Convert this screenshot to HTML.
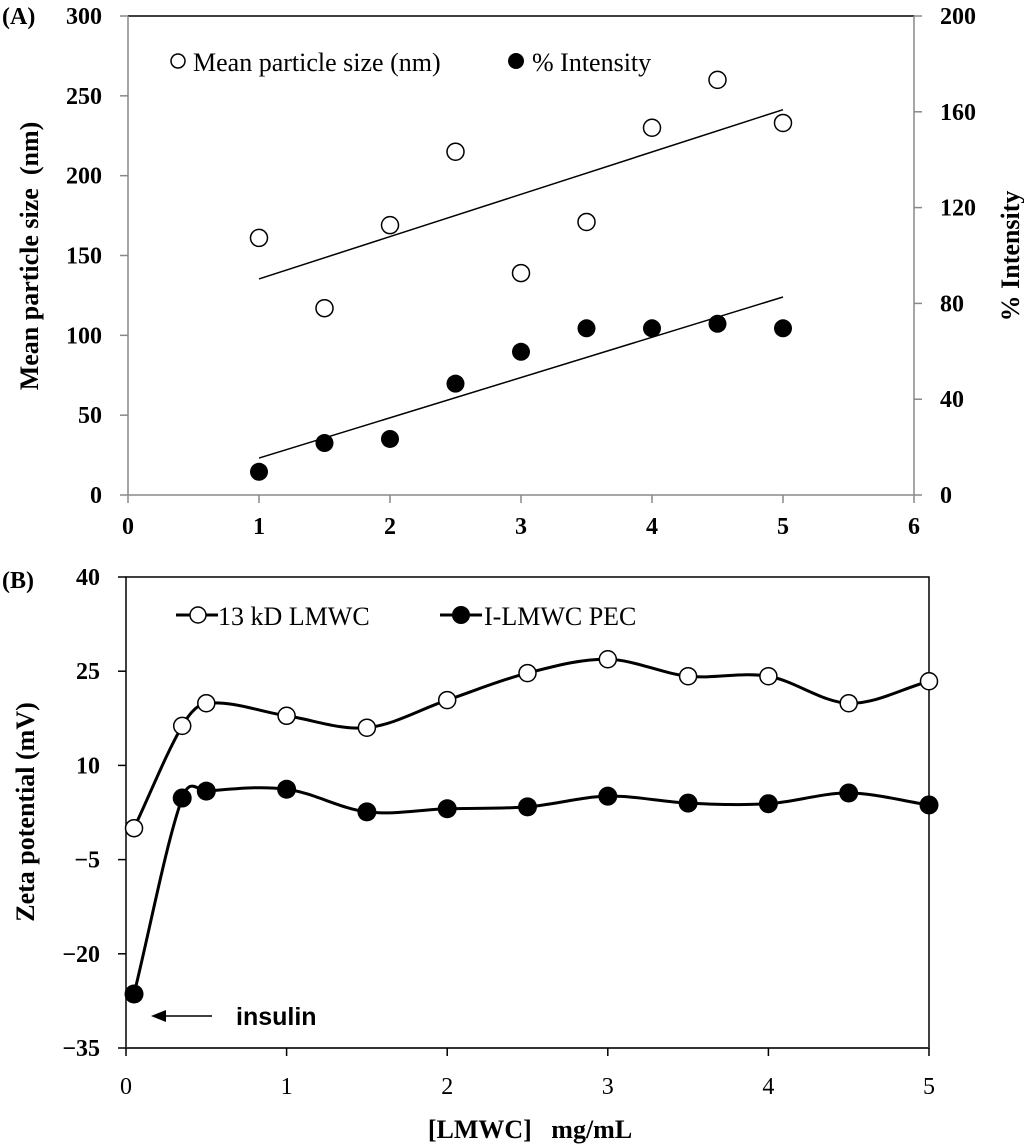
<!DOCTYPE html>
<html><head><meta charset="utf-8"><style>
body{margin:0;background:#fff;}
svg{display:block;font-family:"Liberation Serif",serif;}
</style></head><body>
<svg id="chart" width="1024" height="1146" viewBox="0 0 1024 1146" xmlns="http://www.w3.org/2000/svg">
<g id="pa"></g>
<g id="pb"></g>
</svg>
<script>
// Panel A data
const aX = [1, 1.5, 2, 2.5, 3, 3.5, 4, 4.5, 5];
const aSize = [161, 117, 169, 215, 139, 171, 230, 260, 233];
const aIntensity = [9.7, 21.7, 23.4, 46.5, 59.8, 69.6, 69.6, 71.5, 69.6];
const aXTicks = [0, 1, 2, 3, 4, 5, 6];
const aYTicks = [0, 50, 100, 150, 200, 250, 300];
const aY2Ticks = [0, 40, 80, 120, 160, 200];
// Panel B data
const bX = [0.05, 0.35, 0.5, 1, 1.5, 2, 2.5, 3, 3.5, 4, 4.5, 5];
const bLMWC = [0, 16.3, 19.9, 17.9, 16.0, 20.4, 24.7, 26.9, 24.2, 24.2, 19.9, 23.4];
const bPEC = [-26.4, 4.8, 5.9, 6.2, 2.6, 3.1, 3.4, 5.1, 4.0, 3.9, 5.6, 3.7];
const bXTicks = [0, 1, 2, 3, 4, 5];
const bYTicks = [40, 25, 10, -5, -20, -35];

const NS = "http://www.w3.org/2000/svg";
function mk(parent, tag, attrs, text){
  const e = document.createElementNS(NS, tag);
  for (const k in attrs) e.setAttribute(k, attrs[k]);
  if (text !== undefined) e.textContent = text;
  parent.appendChild(e);
  return e;
}
const pa = document.getElementById('pa');
const pb = document.getElementById('pb');

// ---- Panel A ----
const ax = v => 128 + v * (914 - 128) / 6;
const ay = v => 495 - v * (495 - 16) / 300;
const ay2 = v => 495 - v * (495 - 16) / 200;
let e;
e = mk(pa, 'line', {x1:128, y1:16, x2:914, y2:16, stroke:'#000', 'stroke-width':1.5});


e = mk(pa, 'line', {x1:128, y1:16, x2:128, y2:495, stroke:'#888', 'stroke-width':1.5});


e = mk(pa, 'line', {x1:914, y1:16, x2:914, y2:495, stroke:'#888', 'stroke-width':1.5});


e = mk(pa, 'line', {x1:128, y1:495, x2:914, y2:495, stroke:'#888', 'stroke-width':1.5});


aXTicks.forEach(t => {
  mk(pa, 'line', {x1:ax(t), y1:495, x2:ax(t), y2:503, stroke:'#888', 'stroke-width':1.5});
  e = mk(pa, 'text', {x:ax(t), y:534, 'text-anchor':'middle', 'font-size':24, 'font-weight':'bold'}, String(t));
  
  
});
aYTicks.forEach(t => {
  mk(pa, 'line', {x1:120, y1:ay(t), x2:128, y2:ay(t), stroke:'#888', 'stroke-width':1.5});
  e = mk(pa, 'text', {x:102, y:ay(t) + 8, 'text-anchor':'end', 'font-size':24, 'font-weight':'bold'}, String(t));
  
  
});
aY2Ticks.forEach(t => {
  mk(pa, 'line', {x1:914, y1:ay2(t), x2:922, y2:ay2(t), stroke:'#888', 'stroke-width':1.5});
  e = mk(pa, 'text', {x:940, y:ay2(t) + 8, 'text-anchor':'start', 'font-size':24, 'font-weight':'bold'}, String(t));
  
  
});
e = mk(pa, 'text', {x:0, y:0, 'font-size':26, 'font-weight':'bold', 'text-anchor':'middle', style:'white-space:pre', transform:'translate(38,256) rotate(-90)'}, 'Mean particle size  (nm)');


e = mk(pa, 'text', {x:0, y:0, 'font-size':26, 'font-weight':'bold', 'text-anchor':'middle', transform:'translate(1019,256) rotate(-90)'}, '% Intensity');


e = mk(pa, 'text', {x:2, y:24, 'font-size':24, 'font-weight':'bold'}, '(A)');



function regress(xs, ys){
  const n = xs.length;
  const mx = xs.reduce((a,b)=>a+b,0)/n, my = ys.reduce((a,b)=>a+b,0)/n;
  let sxy=0, sxx=0;
  for (let i=0;i<n;i++){ sxy += (xs[i]-mx)*(ys[i]-my); sxx += (xs[i]-mx)**2; }
  const s = sxy/sxx; return [s, my - s*mx];
}
const [s1, b1] = regress(aX, aSize);
e = mk(pa, 'line', {x1:ax(aX[0]), y1:ay(s1*aX[0]+b1), x2:ax(aX[aX.length-1]), y2:ay(s1*aX[aX.length-1]+b1), stroke:'#000', 'stroke-width':1.5});


const [s2, b2] = regress(aX, aIntensity);
e = mk(pa, 'line', {x1:ax(aX[0]), y1:ay2(s2*aX[0]+b2), x2:ax(aX[aX.length-1]), y2:ay2(s2*aX[aX.length-1]+b2), stroke:'#000', 'stroke-width':1.5});


aX.forEach((x, i) => {
  e = mk(pa, 'circle', {cx:ax(x), cy:ay(aSize[i]), r:8.5, fill:'#fff', stroke:'#000', 'stroke-width':1.5});
  
  
  e = mk(pa, 'circle', {cx:ax(x), cy:ay2(aIntensity[i]), r:9, fill:'#000'});
  
  
});
e = mk(pa, 'circle', {cx:178, cy:61, r:7, fill:'#fff', stroke:'#000', 'stroke-width':1.5});


e = mk(pa, 'text', {x:193, y:71, 'font-size':26}, 'Mean particle size (nm)');


e = mk(pa, 'circle', {cx:516, cy:61, r:8, fill:'#000'});


e = mk(pa, 'text', {x:532, y:71, 'font-size':26}, '% Intensity');



// ---- Panel B ----
const bx = v => 126 + v * (929 - 126) / 5;
const by = v => 577 + (40 - v) * (1048 - 577) / 75;
e = mk(pb, 'rect', {x:126, y:577, width:803, height:471, fill:'none', stroke:'#000', 'stroke-width':1.5});


e = mk(pb, 'line', {x1:126, y1:1048, x2:929, y2:1048, stroke:'#333', 'stroke-width':2});


bXTicks.forEach(t => {
  mk(pb, 'line', {x1:bx(t), y1:1048, x2:bx(t), y2:1056, stroke:'#000', 'stroke-width':1.5});
  e = mk(pb, 'text', {x:bx(t), y:1094, 'text-anchor':'middle', 'font-size':24}, String(t));
  
  
});
bYTicks.forEach(t => {
  mk(pb, 'line', {x1:118, y1:by(t), x2:126, y2:by(t), stroke:'#000', 'stroke-width':1.5});
  e = mk(pb, 'text', {x:100, y:by(t) + 8, 'text-anchor':'end', 'font-size':24, 'font-weight':'bold'}, t < 0 ? '\u2212' + (-t) : String(t));
  
  
});
e = mk(pb, 'text', {x:0, y:0, 'font-size':26, 'font-weight':'bold', 'text-anchor':'middle', transform:'translate(34,812) rotate(-90)'}, 'Zeta potential (mV)');


e = mk(pb, 'text', {x:530, y:1138, 'font-size':26, 'font-weight':'bold', 'text-anchor':'middle', style:'white-space:pre'}, '[LMWC]   mg/mL');


e = mk(pb, 'text', {x:2, y:588, 'font-size':24, 'font-weight':'bold'}, '(B)');



// Hermite spline parameterised in x (no x-overshoot)
function smooth(pts){
  const n = pts.length;
  const m = pts.map((p, i) => {
    const a = pts[Math.max(0, i-1)], b = pts[Math.min(n-1, i+1)];
    return (b[1]-a[1]) / (b[0]-a[0]);
  });
  let d = 'M' + pts[0][0] + ',' + pts[0][1];
  for (let i=0;i<n-1;i++){
    const p1 = pts[i], p2 = pts[i+1], dx = (p2[0]-p1[0]) / 3;
    d += ' C' + (p1[0]+dx) + ',' + (p1[1]+m[i]*dx) + ' ' + (p2[0]-dx) + ',' + (p2[1]-m[i+1]*dx) + ' ' + p2[0] + ',' + p2[1];
  }
  return d;
}
e = mk(pb, 'path', {d:smooth(bX.map((x,i)=>[bx(x), by(bLMWC[i])])), fill:'none', stroke:'#000', 'stroke-width':3});


e = mk(pb, 'path', {d:smooth(bX.map((x,i)=>[bx(x), by(bPEC[i])])), fill:'none', stroke:'#000', 'stroke-width':3});


bX.forEach((x, i) => {
  e = mk(pb, 'circle', {cx:bx(x), cy:by(bLMWC[i]), r:8.5, fill:'#fff', stroke:'#000', 'stroke-width':1.5});
  
  
  e = mk(pb, 'circle', {cx:bx(x), cy:by(bPEC[i]), r:9.5, fill:'#000'});
  
  
});
e = mk(pb, 'line', {x1:176, y1:615, x2:218, y2:615, stroke:'#000', 'stroke-width':3});


e = mk(pb, 'circle', {cx:198, cy:615, r:8, fill:'#fff', stroke:'#000', 'stroke-width':1.5});


e = mk(pb, 'text', {x:218, y:625, 'font-size':26}, '13 kD LMWC');


e = mk(pb, 'line', {x1:440, y1:615, x2:482, y2:615, stroke:'#000', 'stroke-width':3});


e = mk(pb, 'circle', {cx:461, cy:615, r:9, fill:'#000'});


e = mk(pb, 'text', {x:484, y:625, 'font-size':26}, 'I-LMWC PEC');


e = mk(pb, 'line', {x1:212, y1:1016, x2:160, y2:1016, stroke:'#000', 'stroke-width':1.5});


mk(pb, 'polygon', {points:'151,1016 166,1010 166,1022', fill:'#000'});
e = mk(pb, 'text', {x:236, y:1025, 'font-size':25, 'font-weight':'bold', 'font-family':'"Liberation Sans", sans-serif'}, 'insulin');


</script>
</body></html>
